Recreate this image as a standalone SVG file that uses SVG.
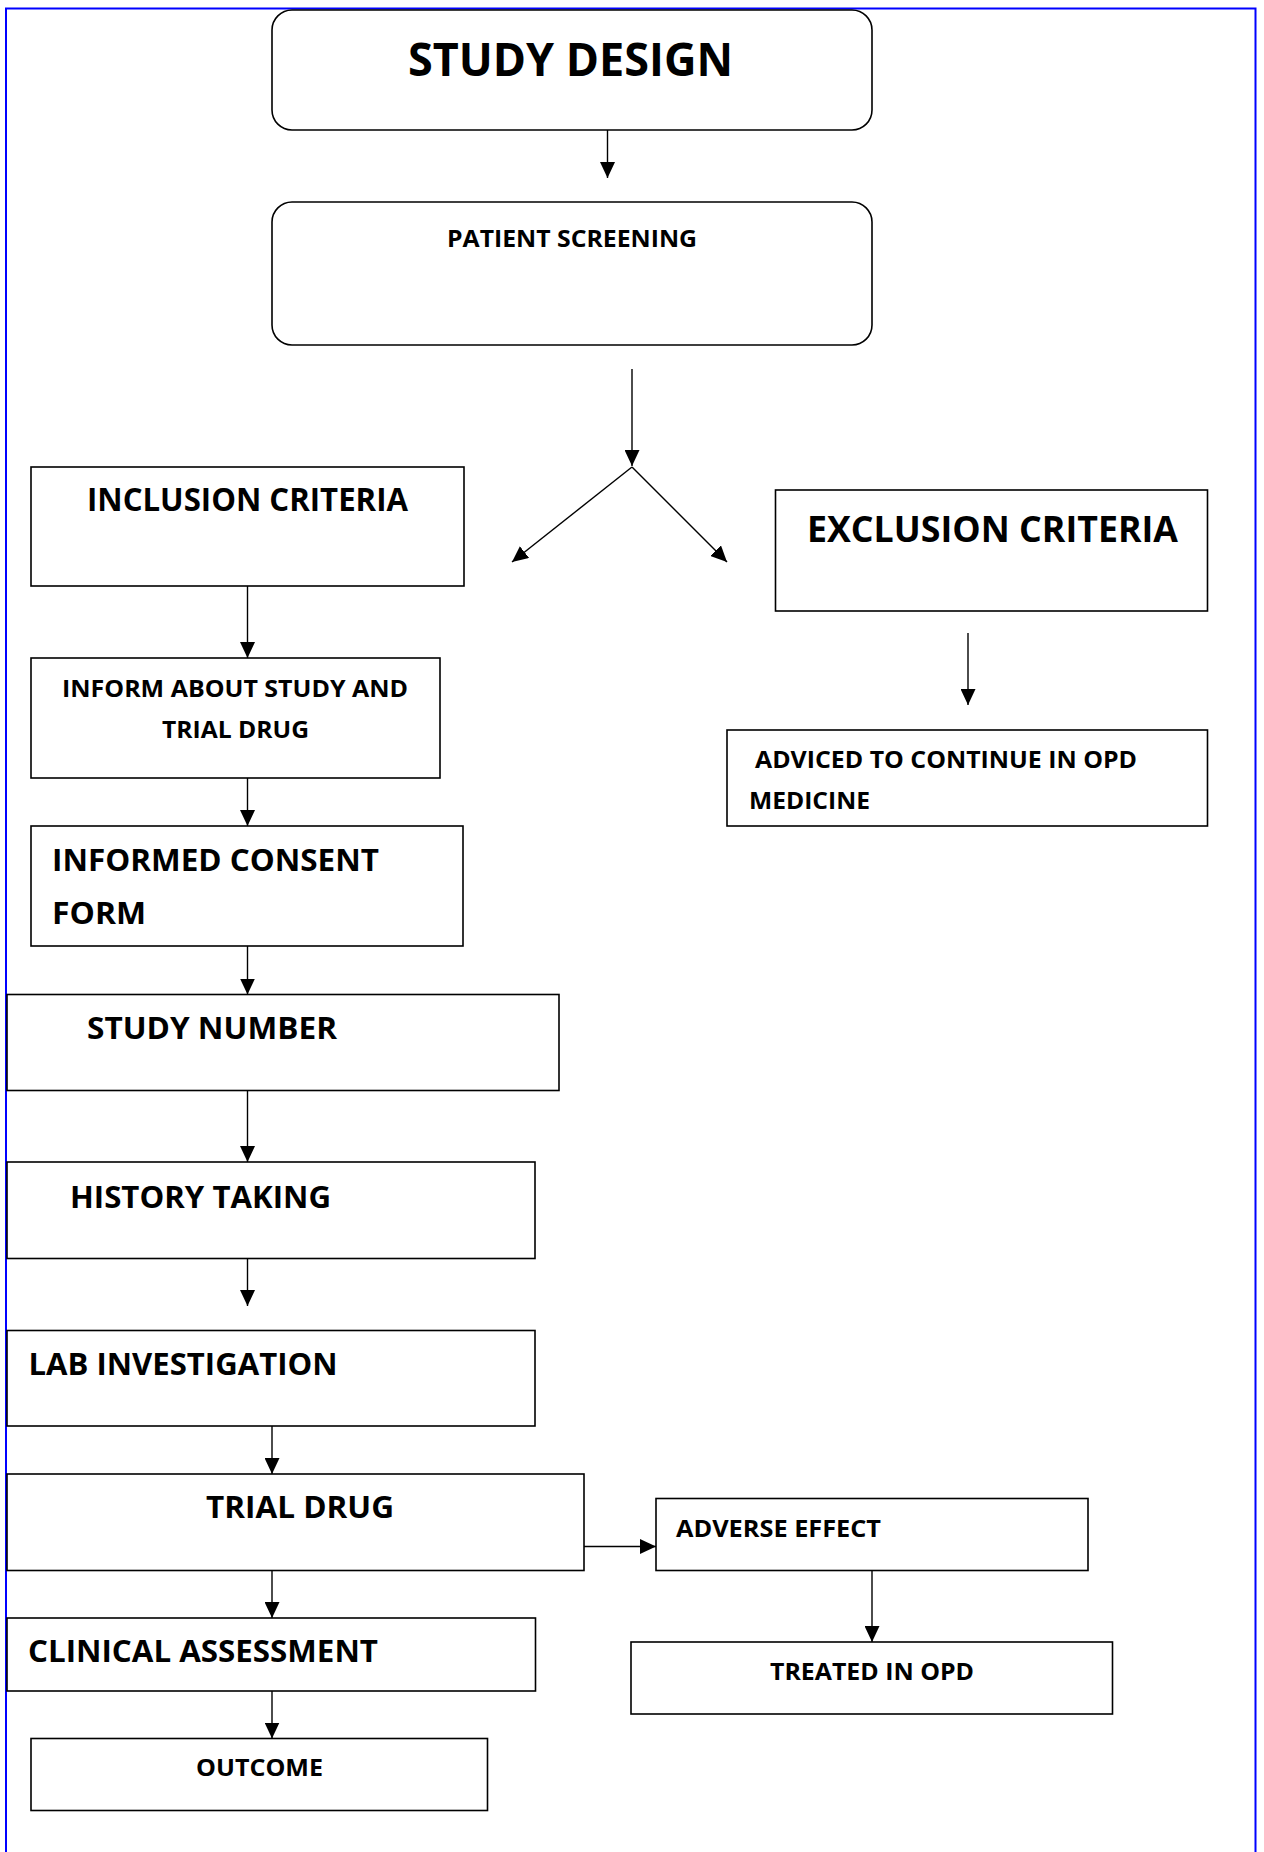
<svg xmlns="http://www.w3.org/2000/svg" width="1264" height="1852" viewBox="0 0 1264 1852">
<style>
.box{fill:#fff;stroke:#000;stroke-width:1.6}
.t{font-family:"Open Sans","Liberation Sans",sans-serif;font-weight:bold;fill:#000}
.c{fill:none;stroke:#000;stroke-width:1.4}
</style>
<defs>
<marker id="ah" markerUnits="userSpaceOnUse" markerWidth="16" markerHeight="15" viewBox="0 0 16 15" refX="16" refY="7.5" orient="auto">
<path d="M0,0 L16,7.5 L0,15 z" fill="#000"/>
</marker>
</defs>
<rect width="1264" height="1852" fill="#fff"/>
<path d="M6,1852 V8.5 H1255.5 V1852" fill="none" stroke="#0000ff" stroke-width="2"/>

<g id="study-design">
<rect class="box" x="272" y="10" width="600" height="120" rx="20" ry="20"/>
<text class="t" x="408" y="76" font-size="46" textLength="325" lengthAdjust="spacingAndGlyphs">STUDY DESIGN</text>
</g>
<g id="patient-screening">
<rect class="box" x="272" y="202" width="600" height="143" rx="20" ry="20"/>
<text class="t" x="447" y="247" font-size="22.5" textLength="250" lengthAdjust="spacingAndGlyphs">PATIENT SCREENING</text>
</g>
<g id="inclusion-criteria">
<rect class="box" x="31" y="467" width="433" height="119"/>
<text class="t" x="87" y="511" font-size="32" textLength="321" lengthAdjust="spacingAndGlyphs">INCLUSION CRITERIA</text>
</g>
<g id="exclusion-criteria">
<rect class="box" x="775.5" y="490" width="432" height="121"/>
<text class="t" x="807" y="542" font-size="35" textLength="371" lengthAdjust="spacingAndGlyphs">EXCLUSION CRITERIA</text>
</g>
<g id="inform-about-study">
<rect class="box" x="31" y="658" width="409" height="120"/>
<text class="t" x="62" y="697" font-size="24" textLength="346" lengthAdjust="spacingAndGlyphs">INFORM ABOUT STUDY AND</text>
<text class="t" x="162" y="738" font-size="24" textLength="147" lengthAdjust="spacingAndGlyphs">TRIAL DRUG</text>
</g>
<g id="adviced-opd">
<rect class="box" x="727" y="730" width="480.5" height="96"/>
<text class="t" x="755" y="768" font-size="23" textLength="382" lengthAdjust="spacingAndGlyphs">ADVICED TO CONTINUE IN OPD</text>
<text class="t" x="749" y="809" font-size="23" textLength="121" lengthAdjust="spacingAndGlyphs">MEDICINE</text>
</g>
<g id="informed-consent">
<rect class="box" x="31" y="826" width="432" height="120"/>
<text class="t" x="52" y="871" font-size="30" textLength="327" lengthAdjust="spacingAndGlyphs">INFORMED CONSENT</text>
<text class="t" x="52" y="924" font-size="30" textLength="94" lengthAdjust="spacingAndGlyphs">FORM</text>
</g>
<g id="study-number">
<rect class="box" x="7" y="994.5" width="552" height="96"/>
<text class="t" x="87" y="1038.5" font-size="30" textLength="250" lengthAdjust="spacingAndGlyphs">STUDY NUMBER</text>
</g>
<g id="history-taking">
<rect class="box" x="7" y="1162" width="528" height="96.5"/>
<text class="t" x="70" y="1208" font-size="31" textLength="261" lengthAdjust="spacingAndGlyphs">HISTORY TAKING</text>
</g>
<g id="lab-investigation">
<rect class="box" x="7" y="1330.5" width="528" height="95.5"/>
<text class="t" x="28.5" y="1374.5" font-size="31" textLength="309" lengthAdjust="spacingAndGlyphs">LAB INVESTIGATION</text>
</g>
<g id="trial-drug">
<rect class="box" x="7" y="1474" width="577" height="96.5"/>
<text class="t" x="206" y="1518" font-size="30" textLength="188" lengthAdjust="spacingAndGlyphs">TRIAL DRUG</text>
</g>
<g id="adverse-effect">
<rect class="box" x="656" y="1498.5" width="432" height="72"/>
<text class="t" x="676" y="1537" font-size="24" textLength="205" lengthAdjust="spacingAndGlyphs">ADVERSE EFFECT</text>
</g>
<g id="treated-in-opd">
<rect class="box" x="631" y="1642" width="481.5" height="72"/>
<text class="t" x="770" y="1680" font-size="23.5" textLength="204" lengthAdjust="spacingAndGlyphs">TREATED IN OPD</text>
</g>
<g id="clinical-assessment">
<rect class="box" x="7" y="1618" width="528.5" height="73"/>
<text class="t" x="28" y="1662" font-size="30" textLength="350" lengthAdjust="spacingAndGlyphs">CLINICAL ASSESSMENT</text>
</g>
<g id="outcome">
<rect class="box" x="31" y="1738.5" width="456.5" height="72"/>
<text class="t" x="196" y="1776" font-size="23.5" textLength="127" lengthAdjust="spacingAndGlyphs">OUTCOME</text>
</g>

<g id="connectors">
<line class="c" x1="607.5" y1="130" x2="607.5" y2="178" marker-end="url(#ah)"/>
<line class="c" x1="632" y1="369" x2="632" y2="466" marker-end="url(#ah)"/>
<line class="c" x1="632" y1="467" x2="512" y2="562" marker-end="url(#ah)"/>
<line class="c" x1="632" y1="467" x2="727" y2="562" marker-end="url(#ah)"/>
<line class="c" x1="247.5" y1="586" x2="247.5" y2="658" marker-end="url(#ah)"/>
<line class="c" x1="968" y1="633" x2="968" y2="705" marker-end="url(#ah)"/>
<line class="c" x1="247.5" y1="778" x2="247.5" y2="826" marker-end="url(#ah)"/>
<line class="c" x1="247.5" y1="946" x2="247.5" y2="994.5" marker-end="url(#ah)"/>
<line class="c" x1="247.5" y1="1090.5" x2="247.5" y2="1162" marker-end="url(#ah)"/>
<line class="c" x1="247.5" y1="1258.5" x2="247.5" y2="1306" marker-end="url(#ah)"/>
<line class="c" x1="272" y1="1426" x2="272" y2="1474" marker-end="url(#ah)"/>
<line class="c" x1="584" y1="1546.5" x2="656" y2="1546.5" marker-end="url(#ah)"/>
<line class="c" x1="872" y1="1570.5" x2="872" y2="1642" marker-end="url(#ah)"/>
<line class="c" x1="272" y1="1570.5" x2="272" y2="1618" marker-end="url(#ah)"/>
<line class="c" x1="272" y1="1691" x2="272" y2="1738.5" marker-end="url(#ah)"/>
</g>
</svg>
